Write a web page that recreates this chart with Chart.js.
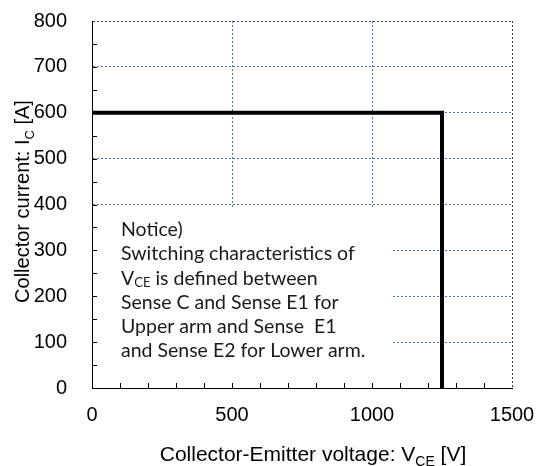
<!DOCTYPE html>
<html>
<head>
<meta charset="utf-8">
<script src="https://cdn.jsdelivr.net/npm/chart.js@4"></script>
<style>
html,body{margin:0;padding:0;background:#fff;}
#wrap{width:537px;height:466px;}
</style>
</head>
<body>
<div id="wrap"><canvas id="myChart" width="537" height="466"></canvas></div>
<script>
// RBSOA-like curve: voltage [V] vs current [A]
var vce=[0,1250,1250]
var ic=[600,600,0]
var xTicks=[0,500,1000,1500]
var yTicks=[0,100,200,300,400,500,600,700,800]
var notice=["Notice)","Switching characteristics of","V|CE| is defined between","Sense C and Sense E1 for","Upper arm and Sense  E1","and Sense E2 for Lower arm."]

var pts=vce.map(function(v,i){return {x:v,y:ic[i]}})
var axisFont="Liberation Sans"
var noteFont="Lato"
var gridBlue="#4a72c0"

// draws text with a subscript part: pieces separated by |
function subText(ctx,str,x,y,size,font){
  var parts=str.split("|")
  var cx=x
  for(var i=0;i<parts.length;i++){
    var sub=i%2==1
    ctx.font=(sub?Math.round(size*0.65):size)+"px \""+font+"\""
    ctx.fillText(parts[i],cx,sub?y+size*0.25:y)
    cx+=ctx.measureText(parts[i]).width
  }
  return cx-x
}
function subWidth(ctx,str,size,font){
  var parts=str.split("|"),w=0
  for(var i=0;i<parts.length;i++){
    ctx.font=(i%2==1?Math.round(size*0.65):size)+"px \""+font+"\""
    w+=ctx.measureText(parts[i]).width
  }
  return w
}

var extras={
  id:"extras",
  beforeDatasetsDraw:function(chart){
    var ctx=chart.ctx,xs=chart.scales.x,ys=chart.scales.y
    ctx.save()
    // white notice box hides the grid
    var l=xs.getPixelForValue(0)+1,r=xs.getPixelForValue(1068)
    var t=ys.getPixelForValue(395),b=ys.getPixelForValue(0)-1
    ctx.fillStyle="#fff"
    ctx.fillRect(l,t,r-l,b-t)
    // inward ticks
    ctx.strokeStyle="#000";ctx.lineWidth=1
    ctx.beginPath()
    for(var v=50;v<800;v+=50){
      var py=Math.round(ys.getPixelForValue(v))+0.5
      ctx.moveTo(xs.left,py);ctx.lineTo(xs.left+5,py)
    }
    for(var u=100;u<1500;u+=100){
      var px=Math.round(xs.getPixelForValue(u))+0.5
      ctx.moveTo(px,ys.bottom);ctx.lineTo(px,ys.bottom-5)
    }
    ctx.stroke()
    // notice text
    ctx.fillStyle="#1a1a1a"
    ctx.textBaseline="middle"
    for(var i=0;i<notice.length;i++){
      subText(ctx,notice[i],121,230+i*24.2,19.5,noteFont)
    }
    // axis titles
    ctx.fillStyle="#000"
    ctx.textBaseline="alphabetic"
    var xt="Collector-Emitter voltage: V|CE| [V]"
    var w=subWidth(ctx,xt,21,axisFont)
    subText(ctx,xt,313-w/2,461,21,axisFont)
    var yt="Collector current: I|C| [A]"
    var w2=subWidth(ctx,yt,20,axisFont)
    ctx.translate(29,201.5)
    ctx.rotate(-Math.PI/2)
    subText(ctx,yt,-w2/2,0,20,axisFont)
    ctx.restore()
  }
}

function noPad(s){s.paddingTop=0;s.paddingBottom=0;s.paddingLeft=0;s.paddingRight=0}

var ctx=document.getElementById("myChart").getContext("2d")
var visual=new Chart(ctx,{
  type:"line",
  data:{datasets:[{data:pts,borderColor:"#000",borderWidth:4,pointRadius:0,fill:false,tension:0,borderJoinStyle:"miter"}]},
  options:{
    responsive:false,
    animation:false,
    layout:{padding:{left:0,right:25,top:21,bottom:0}},
    plugins:{legend:{display:false},tooltip:{enabled:false}},
    scales:{
      x:{type:"linear",min:0,max:1500,
        afterBuildTicks:function(s){s.ticks=xTicks.map(function(v){return {value:v}})},
        afterFit:function(s){s.height=78;noPad(s)},
        grid:{color:function(c){return c.tick&&c.tick.value==1500?"#2f3f5f":gridBlue},drawTicks:false,lineWidth:1},
        border:{color:"#000",width:1,dash:[2,2]},
        ticks:{padding:15,color:"#000",font:{family:axisFont,size:20},callback:function(v){return String(v)}}},
      y:{min:0,max:800,
        afterBuildTicks:function(s){s.ticks=yTicks.map(function(v){return {value:v}})},
        afterFit:function(s){s.width=92;noPad(s)},
        grid:{color:function(c){return c.tick&&c.tick.value==800?"#2f3f5f":gridBlue},drawTicks:false,lineWidth:1},
        border:{color:"#000",width:1,dash:[2,2]},
        ticks:{padding:25,color:"#000",font:{family:axisFont,size:20},callback:function(v){return String(v)}}}
    }
  },
  plugins:[extras]
})
</script>
</body>
</html>
